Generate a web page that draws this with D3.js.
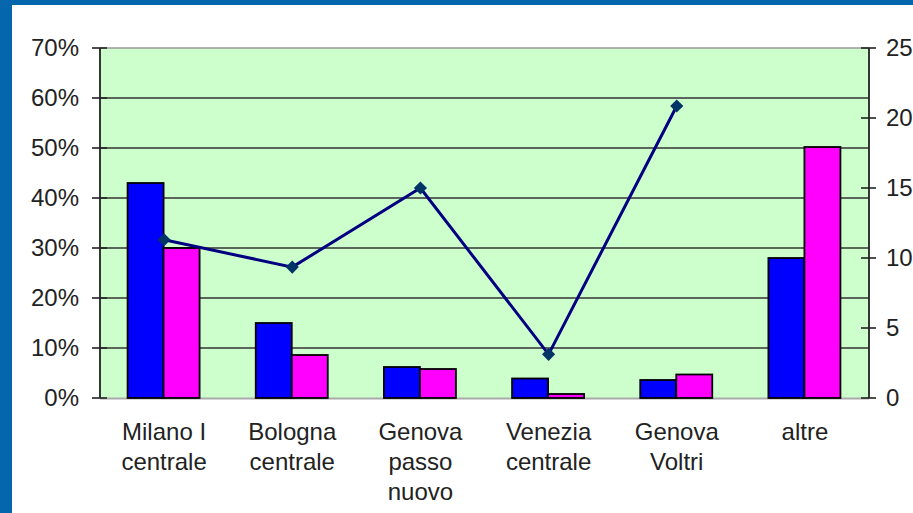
<!DOCTYPE html>
<html><head><meta charset="utf-8">
<script src="https://cdn.jsdelivr.net/npm/d3@7"></script>
<style>html,body{margin:0;padding:0;background:#fff;}svg{display:block;}</style>
</head><body>
<script>
const categories = [["Milano I","centrale"],["Bologna","centrale"],["Genova","passo","nuovo"],["Venezia","centrale"],["Genova","Voltri"],["altre"]];
const seriesBlue = [0.43, 0.15, 0.062, 0.039, 0.036, 0.28];
const seriesMagenta = [0.30, 0.086, 0.058, 0.008, 0.047, 0.502];
const lineValues = [11.3, 9.35, 15.0, 3.12, 20.86, null];
const leftTicks = [0,0.1,0.2,0.3,0.4,0.5,0.6,0.7];
const rightTicks = [0,5,10,15,20,25];

const W=913,H=513;
const svg=d3.select("body").append("svg").attr("width",W).attr("height",H);
svg.append("rect").attr("width",W).attr("height",H).attr("fill","#fff");
svg.append("rect").attr("x",0).attr("y",0).attr("width",W).attr("height",5).attr("fill","#0467AE");
svg.append("rect").attr("x",0).attr("y",0).attr("width",12).attr("height",H).attr("fill","#0467AE");

const L=100,R=869,T=48,B=398;
const x=d3.scaleBand().domain(d3.range(categories.length)).range([L,R]).paddingInner(0).paddingOuter(0);
const yL=d3.scaleLinear().domain([0,0.7]).range([B,T]);
const yR=d3.scaleLinear().domain([0,25]).range([B,T]);
const font="Liberation Sans, Arial, sans-serif";

svg.append("rect").attr("x",L).attr("y",T).attr("width",R-L).attr("height",B-T).attr("fill","#CCFFCC");
svg.append("g").selectAll("line").data(leftTicks.filter(d=>d>0&&d<0.7)).join("line")
 .attr("x1",L).attr("x2",R).attr("y1",d=>yL(d)).attr("y2",d=>yL(d)).attr("stroke","#333").attr("stroke-width",1.6);
svg.append("line").attr("x1",L).attr("x2",R).attr("y1",T).attr("y2",T).attr("stroke","#999").attr("stroke-width",1.5);
svg.append("line").attr("x1",L).attr("x2",R).attr("y1",B+0.5).attr("y2",B+0.5).attr("stroke","#aaa").attr("stroke-width",2);

const bw=36;
const g=svg.append("g");
g.selectAll(".b").data(seriesBlue).join("rect").attr("x",(d,i)=>x(i)+x.bandwidth()/2-bw-0.5).attr("y",d=>yL(d)).attr("width",bw).attr("height",d=>B-yL(d))
 .attr("fill","#0000FF").attr("stroke","#000").attr("stroke-width",1.8);
g.selectAll(".m").data(seriesMagenta).join("rect").attr("x",(d,i)=>x(i)+x.bandwidth()/2-0.5).attr("y",d=>yL(d)).attr("width",bw).attr("height",d=>B-yL(d))
 .attr("fill","#FF00FF").attr("stroke","#000").attr("stroke-width",1.8);

const axL=d3.axisLeft(yL).tickValues(leftTicks).tickFormat(d3.format(".0%")).tickSize(0).tickPadding(21);
const gl=svg.append("g").attr("transform",`translate(${L},0)`).call(axL);
gl.select(".domain").remove();
gl.selectAll("text").attr("font-family",font).attr("font-size",24).attr("fill","#222");
svg.append("g").selectAll("line").data(leftTicks).join("line").attr("x1",L-8).attr("x2",L+7).attr("y1",d=>yL(d)).attr("y2",d=>yL(d)).attr("stroke","#222").attr("stroke-width",1.6);
svg.append("line").attr("x1",L).attr("x2",L).attr("y1",T).attr("y2",B).attr("stroke","#222").attr("stroke-width",1.8);

const axR=d3.axisRight(yR).tickValues(rightTicks).tickSize(0).tickPadding(17);
const gr=svg.append("g").attr("transform",`translate(${R},0)`).call(axR);
gr.select(".domain").remove();
gr.selectAll("text").attr("font-family",font).attr("font-size",24).attr("fill","#222");
svg.append("g").selectAll("line").data(rightTicks).join("line").attr("x1",R-8).attr("x2",R+7).attr("y1",d=>yR(d)).attr("y2",d=>yR(d)).attr("stroke","#222").attr("stroke-width",1.6);
svg.append("line").attr("x1",R).attr("x2",R).attr("y1",T).attr("y2",B).attr("stroke","#222").attr("stroke-width",1.8);

categories.forEach((lines,i)=>{
  const t=svg.append("text").attr("x",x(i)+x.bandwidth()/2).attr("y",440).attr("text-anchor","middle")
   .attr("font-family",font).attr("font-size",24).attr("fill","#222");
  lines.forEach((s,j)=>t.append("tspan").attr("x",x(i)+x.bandwidth()/2).attr("dy",j===0?0:30).text(s));
});

const pts=lineValues.map((v,i)=>({v,i})).filter(d=>d.v!=null);
const line=d3.line().x(d=>x(d.i)+x.bandwidth()/2).y(d=>yR(d.v));
svg.append("path").datum(pts).attr("d",line).attr("fill","none").attr("stroke","#000080").attr("stroke-width",3);
svg.append("g").selectAll("path").data(pts).join("path")
 .attr("d",d3.symbol(d3.symbolDiamond2,110))
 .attr("transform",d=>`translate(${x(d.i)+x.bandwidth()/2},${yR(d.v)})`).attr("fill","#003366");
</script>
</body></html>
